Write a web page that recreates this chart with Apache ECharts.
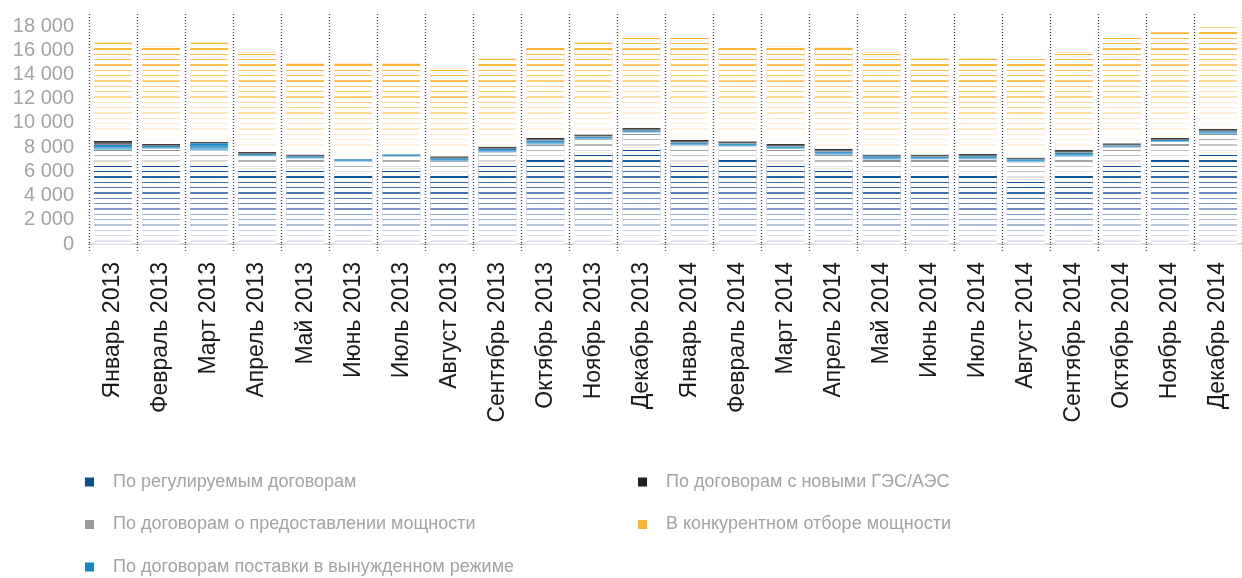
<!DOCTYPE html>
<html><head><meta charset="utf-8">
<script src="https://cdn.jsdelivr.net/npm/echarts@6/dist/echarts.min.js"></script>
<style>html,body{margin:0;padding:0;background:#fff;}#c{width:1242px;height:578px;}</style>
</head><body><div id="c"></div>
<script>
const categories = ['Январь 2013','Февраль 2013','Март 2013','Апрель 2013','Май 2013','Июнь 2013','Июль 2013','Август 2013','Сентябрь 2013','Октябрь 2013','Ноябрь 2013','Декабрь 2013','Январь 2014','Февраль 2014','Март 2014','Апрель 2014','Май 2014','Июнь 2014','Июль 2014','Август 2014','Сентябрь 2014','Октябрь 2014','Ноябрь 2014','Декабрь 2014'];
const regulated   = [6600,6600,6600,6250,6250,5800,6250,5800,6650,7100,7550,7950,6650,7100,6650,6250,5800,5800,5800,5350,5800,6650,7100,7550];
const capacity    = [1160,1270,1080,990,810,990,950,1030,910,1120,1110,1240,1490,950,1200,1110,1160,1200,1200,1400,1410,1320,1330,1530];
const forced      = [420,230,640,200,180,210,200,250,290,330,210,210,240,250,200,290,290,210,250,250,330,170,160,240];
const newPlants   = [350,160,100,170,150,20,30,170,200,210,170,200,210,180,210,210,150,190,200,140,240,180,170,190];
const competitive = [8120,8040,8230,8200,7520,7900,7480,7220,7250,7440,7600,7520,8510,7720,8040,8350,8420,7920,7870,8140,8040,8780,8740,8380];
const seriesNames = ['По регулируемым договорам','По договорам о предоставлении мощности','По договорам поставки в вынужденном режиме','По договорам с новыми ГЭС/АЭС','В конкурентном отборе мощности'];
const yTicks = [0,2000,4000,6000,8000,10000,12000,14000,16000,18000];

const legendColors = ['#0d4f8e','#9a9a9a','#1b84c2','#231f20','#fbb733'];
const grads = [
  [[0,'#eef1f8'],[0.5,'#7590c2'],[1,'#064f92']],
  [[0,'#eeeeee'],[1,'#8e8e8e']],
  [[0,'#a9d1ea'],[1,'#0a7cc0']],
  [[0,'#9c9c9c'],[1,'#1f1c1d']],
  [[0,'#fffaf0'],[0.5,'#fdd893'],[1,'#fbb532']]
];
function grad(stops){
  return {type:'linear',x:0,y:1,x2:0,y2:0,colorStops:stops.map(s=>({offset:s[0],color:s[1]}))};
}
const stripeDecal = {symbol:'rect',symbolSize:1,color:'#ffffff',dashArrayX:[1,0],dashArrayY:[0,2,4,1,4,1,4,0]};
const dataArr = [regulated,capacity,forced,newPlants,competitive];
const striped = [true,true,false,false,true];

const fmt = v => String(v).replace(/\B(?=(\d{3})+(?!\d))/g,' ');
const chart = echarts.init(document.getElementById('c'),null,{renderer:'canvas'});
const lgText = {color:'#a3a3a3',fontSize:18,lineHeight:20,fontFamily:'Liberation Sans',padding:[0,0,0,14]};
const lgBase = {orient:'vertical',top:472,padding:0,itemWidth:9,itemHeight:9,itemGap:22.5,icon:'rect',
  textStyle:lgText,itemStyle:{decal:'none'},selectedMode:false};
chart.setOption({
  animation:false,
  grid:{left:89,right:-5,top:14,bottom:334,containLabel:false},
  legend:[
    Object.assign({left:85,data:seriesNames.slice(0,3).map((n,i)=>({name:n,itemStyle:{color:legendColors[i]}}))},lgBase),
    Object.assign({left:638,data:seriesNames.slice(3).map((n,i)=>({name:n,itemStyle:{color:legendColors[i+3]}}))},lgBase)
  ],
  xAxis:{type:'category',data:categories,boundaryGap:true,
    axisLine:{show:true,lineStyle:{color:'#dcdcdc',width:2}},
    axisTick:{show:true,length:9,lineStyle:{color:'#444',width:1.3,type:[1,2]}},
    splitLine:{show:true,lineStyle:{color:'#444',width:1.3,type:[1,2]}},
    axisLabel:{interval:0,rotate:90,margin:18,fontSize:23,color:'#1a1a1a',fontFamily:'Liberation Sans'}},
  yAxis:{type:'value',min:0,max:19000,interval:2000,
    axisLine:{show:false},axisTick:{show:false},splitLine:{show:false},
    axisLabel:{showMaxLabel:false,margin:15,fontSize:20,color:'#a3a3a3',fontFamily:'Liberation Sans',
      formatter:v=>yTicks.indexOf(v)>=0?fmt(v):''}},
  series:dataArr.map((d,i)=>({
    name:seriesNames[i],type:'bar',stack:'total',barWidth:38,data:d,
    itemStyle:Object.assign({color:grad(grads[i])},striped[i]?{decal:stripeDecal}:{}),
    emphasis:{disabled:true}
  }))
});
</script></body></html>
